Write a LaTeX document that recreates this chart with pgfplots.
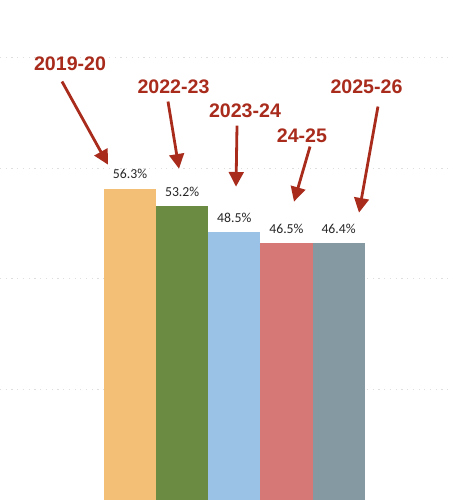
\documentclass[border=0pt]{standalone}
\usepackage{fontspec}
\setmainfont{Carlito}
\newfontfamily\helv{Liberation Sans}
\usepackage{pgfplots}
\pgfplotsset{compat=1.18}
\usetikzlibrary{arrows.meta}
\definecolor{c1}{HTML}{F3BF77}
\definecolor{c2}{HTML}{6B8B43}
\definecolor{c3}{HTML}{99C2E6}
\definecolor{c4}{HTML}{D67876}
\definecolor{c5}{HTML}{8599A3}
\definecolor{arr}{HTML}{A82B1C}
\begin{document}
\begin{tikzpicture}
\begin{axis}[
  scale only axis,
  width=339.75pt, height=375pt,
  xmin=-2.493, xmax=6.194,
  ymin=0, ymax=90.4,
  axis line style={draw=none},
  tick style={draw=none},
  xtick=\empty,
  ytick={20,40,60,80},
  yticklabels={},
  ymajorgrids,
  grid style={dash pattern=on 0.9pt off 3.4pt, line width=0.8pt, color=black!13},
  clip=false,
  /pgf/number format/assume math mode=true,
  every node near coord/.append style={font=\fontsize{10.3}{12}\selectfont, color=black!85, anchor=south, inner sep=0pt, yshift=7pt},
  nodes near coords={\pgfmathprintnumber[fixed,precision=1,fixed zerofill,assume math mode=true]{\pgfplotspointmeta}\%},
]
\addplot[ybar, bar width=1, bar shift=0pt, fill=c1, draw=none] coordinates {(0,56.3)};
\addplot[ybar, bar width=1, bar shift=0pt, fill=c2, draw=none] coordinates {(1,53.2)};
\addplot[ybar, bar width=1, bar shift=0pt, fill=c3, draw=none] coordinates {(2,48.5)};
\addplot[ybar, bar width=1, bar shift=0pt, fill=c4, draw=none] coordinates {(3,46.5)};
\addplot[ybar, bar width=1, bar shift=0pt, fill=c5, draw=none] coordinates {(4,46.4)};

\begin{scope}[every node/.style={font=\helv\bfseries\fontsize{14.7}{16}\selectfont, text=arr, inner sep=0pt}]
\node at (axis cs:-1.15,78.9) {2019-20};
\node at (axis cs:0.834,74.75) {2022-23};
\node at (axis cs:2.205,70.4) {2023-24};
\node at (axis cs:3.298,65.9) {24-25};
\node at (axis cs:4.535,74.75) {2025-26};
\end{scope}
\begin{scope}[arr, line width=2.1pt, -{Triangle[length=11pt,width=11pt]}]
\draw (axis cs:-1.304,75.66) -- (axis cs:-0.422,60.63);
\draw (axis cs:0.729,72.04) -- (axis cs:0.94,59.9);
\draw (axis cs:2.052,67.7) -- (axis cs:2.033,56.65);
\draw (axis cs:3.452,63.9) -- (axis cs:3.145,53.94);
\draw (axis cs:4.755,71.13) -- (axis cs:4.391,51.95);
\end{scope}
\end{axis}
\pgfresetboundingbox
\useasboundingbox (current axis.south west) rectangle (current axis.north east);
\end{tikzpicture}
\end{document}
